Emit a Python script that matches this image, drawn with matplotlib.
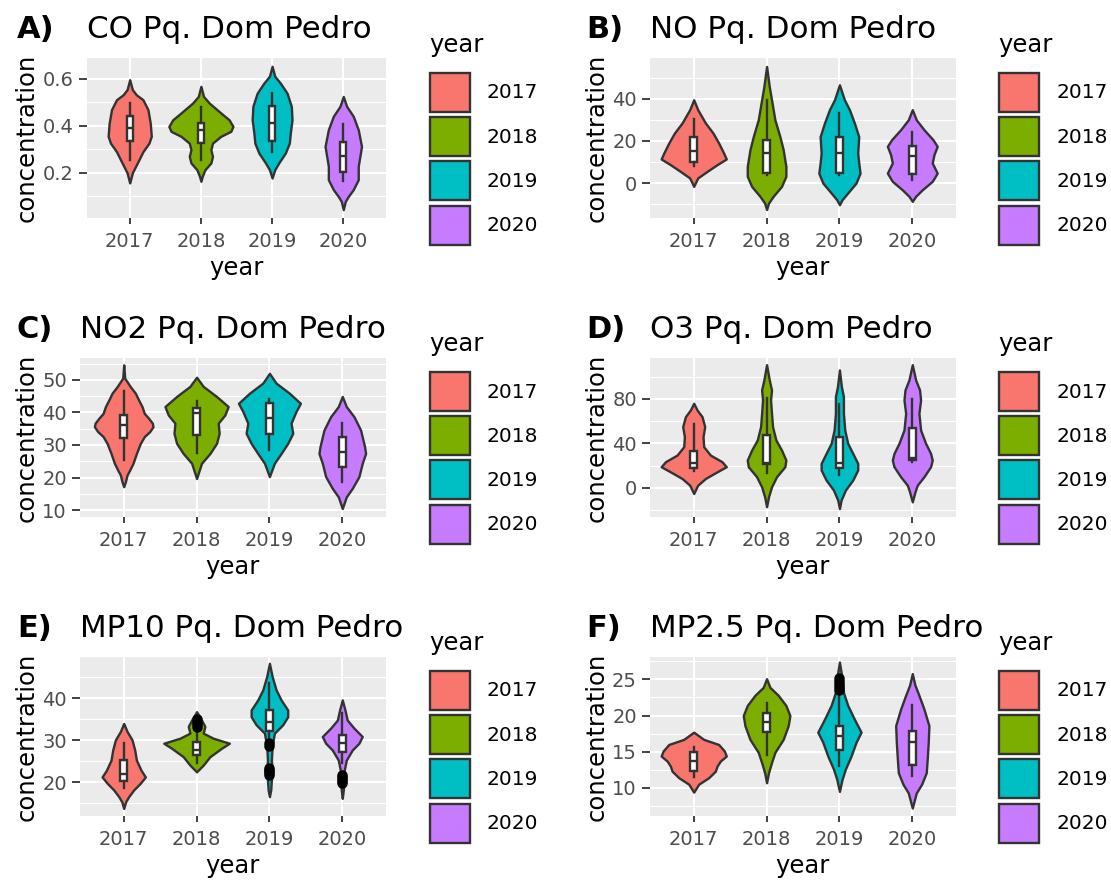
import numpy as np
import matplotlib
matplotlib.use("Agg")
import matplotlib.pyplot as plt
from matplotlib.patches import Rectangle

# ---------------------------------------------------------------------------
# Data (violin outlines as concentration levels and
# half-widths in category units; boxes as [whisker lo, q1, median, q3, whisker hi])
# ---------------------------------------------------------------------------

years = ["2017", "2018", "2019", "2020"]
fill_colors = ["#F8766D", "#7CAE00", "#00BFC4", "#C77CFF"]

# --- CO ---
co_levels = [
    [0.595, 0.553, 0.531, 0.51, 0.468, 0.41, 0.355, 0.326, 0.29, 0.256, 0.22, 0.2, 0.157],
    [0.567, 0.524, 0.496, 0.454, 0.425, 0.397, 0.376, 0.355, 0.326, 0.298, 0.27, 0.242, 0.213, 0.185, 0.164],
    [0.652, 0.61, 0.58, 0.538, 0.482, 0.425, 0.369, 0.326, 0.284, 0.242, 0.213, 0.178],
    [0.524, 0.482, 0.44, 0.383, 0.312, 0.27, 0.228, 0.171, 0.129, 0.1, 0.079, 0.044],
]
co_widths = [
    [0, 0.037, 0.093, 0.186, 0.256, 0.289, 0.303, 0.27, 0.186, 0.13, 0.07, 0.037, 0],
    [0, 0.037, 0.117, 0.28, 0.396, 0.45, 0.42, 0.28, 0.163, 0.14, 0.163, 0.14, 0.056, 0.019, 0],
    [0, 0.037, 0.117, 0.21, 0.27, 0.28, 0.256, 0.242, 0.186, 0.093, 0.037, 0],
    [0, 0.047, 0.14, 0.21, 0.256, 0.233, 0.21, 0.21, 0.14, 0.07, 0.028, 0],
]
co_box = [
    [0.256, 0.334, 0.39, 0.44, 0.496],
    [0.256, 0.326, 0.383, 0.41, 0.48],
    [0.29, 0.334, 0.41, 0.482, 0.538],
    [0.164, 0.202, 0.27, 0.33, 0.408],
]
co_outliers = [[], [], [], []]

# --- NO ---
no_levels = [
    [39.5, 34.8, 28.5, 23.7, 19, 14.2, 11.4, 8.7, 5.5, 2.4, -1.6],
    [55.3, 45.8, 39.5, 30, 22, 15.8, 7.9, 3.2, -1.6, -6.3, -9.5, -12.6],
    [46.6, 39.5, 34.8, 28.5, 22, 14.2, 9.5, 4.7, 0, -4.7, -7.9, -10.3],
    [34.8, 30, 25.3, 20.6, 17.4, 13.4, 9.5, 4.7, 0.8, -3.2, -6.3, -8.7],
]
no_widths = [
    [0, 0.055, 0.16, 0.265, 0.342, 0.411, 0.447, 0.32, 0.183, 0.055, 0],
    [0, 0.037, 0.068, 0.114, 0.183, 0.228, 0.265, 0.265, 0.205, 0.091, 0.027, 0],
    [0, 0.068, 0.137, 0.205, 0.265, 0.251, 0.265, 0.283, 0.228, 0.114, 0.037, 0],
    [0, 0.055, 0.16, 0.283, 0.342, 0.297, 0.274, 0.342, 0.274, 0.137, 0.046, 0],
]
no_box = [
    [7.9, 9.8, 15, 22, 30.4],
    [4, 4.7, 14.2, 20.5, 39.5],
    [4, 4.7, 14.2, 22, 33.2],
    [1.6, 4.4, 12.6, 17.7, 24],
]
no_outliers = [[], [], [], []]

# --- NO2 ---
no2_levels = [
    [54.6, 50.5, 47.9, 45.9, 43.8, 41.8, 39.7, 38.2, 36.7, 35.6, 34.1, 32.6,
     30.5, 27.4, 24.4, 22.3, 20.8, 18.7, 17.2],
    [50.8, 48, 44.9, 41.8, 39.2, 36.7, 33.6, 30.5, 27.4, 24.4, 21.3, 19.7],
    [52, 49, 45.9, 42.8, 40.3, 36.7, 33.6, 30.5, 27.4, 24.4, 20.3],
    [44.9, 41.8, 38.7, 34.6, 29.5, 27.4, 24.4, 20.3, 16.7, 14.1, 10.5],
]
no2_widths = [
    [0, 0.014, 0.091, 0.16, 0.205, 0.251, 0.283, 0.342, 0.393, 0.402, 0.356, 0.283,
     0.228, 0.174, 0.128, 0.082, 0.046, 0.023, 0],
    [0, 0.091, 0.274, 0.434, 0.388, 0.297, 0.31, 0.274, 0.183, 0.068, 0.023, 0],
    [0, 0.091, 0.274, 0.425, 0.365, 0.297, 0.32, 0.251, 0.16, 0.068, 0],
    [0, 0.055, 0.16, 0.251, 0.306, 0.32, 0.274, 0.228, 0.137, 0.055, 0],
]
no2_box = [
    [25.4, 32, 36.2, 39.2, 46.7],
    [27.4, 33.1, 39.7, 41.3, 43.6],
    [28.5, 33.4, 38.2, 43, 44],
    [18.7, 23.3, 27.9, 32.6, 36.7],
]
no2_outliers = [[], [], [], []]

# --- O3 ---
o3_levels = [
    [76, 70, 64, 55, 46, 37, 29.5, 23.5, 19, 14.4, 8.4, 2.4, -5.1],
    [110.7, 97, 88, 79, 67, 55, 43, 34, 25, 19, 10, 0.9, -8, -17],
    [106, 91, 82, 67, 52, 40, 31, 22, 16, 7, -2, -11, -18.6],
    [110.7, 97, 88, 79, 67, 52, 40, 31, 25, 19, 10, 2.4, -3.6, -12.6],
]
o3_widths = [
    [0, 0.046, 0.114, 0.151, 0.128, 0.137, 0.228, 0.388, 0.447, 0.32, 0.16, 0.055, 0],
    [0, 0.037, 0.068, 0.055, 0.068, 0.082, 0.128, 0.205, 0.265, 0.251, 0.137, 0.068, 0.027, 0],
    [0, 0.027, 0.055, 0.055, 0.073, 0.114, 0.183, 0.251, 0.251, 0.183, 0.082, 0.023, 0],
    [0, 0.046, 0.1, 0.114, 0.091, 0.114, 0.183, 0.251, 0.274, 0.251, 0.16, 0.068, 0.037, 0],
]
o3_box = [
    [15, 17.4, 22, 33.4, 57.4],
    [13, 21.4, 22.6, 47.5, 80.6],
    [11.4, 17.4, 22, 46, 75.5],
    [23.5, 25, 26.5, 53.5, 80],
]
o3_outliers = [[], [], [], []]

# --- MP10 ---
mp10_levels = [
    [34, 32.1, 30.1, 27.7, 25.3, 22.9, 21.3, 19.8, 18.2, 16.6, 15.4, 13.8],
    [36.8, 34.8, 33.3, 31.7, 30.5, 29.3, 28.1, 26.1, 24.1, 22.5],
    [48.3, 45.2, 42, 39.6, 37.2, 35.6, 33.7, 31.7, 28.5, 25.3, 22.9, 20.6, 18.2, 16.6],
    [39.6, 37.2, 34.8, 32.9, 30.9, 29.3, 27.7, 25.3, 22.9, 20.6, 18.2, 16.2],
]
mp10_widths = [
    [0, 0.046, 0.114, 0.151, 0.174, 0.237, 0.297, 0.228, 0.137, 0.068, 0.027, 0],
    [0, 0.068, 0.114, 0.091, 0.228, 0.45, 0.342, 0.183, 0.091, 0],
    [0, 0.037, 0.091, 0.16, 0.251, 0.251, 0.183, 0.068, 0.037, 0.027, 0.037, 0.027, 0.018, 0],
    [0, 0.037, 0.068, 0.16, 0.274, 0.228, 0.137, 0.055, 0.027, 0.027, 0.014, 0],
]
mp10_box = [
    [18.6, 20.4, 22, 25.3, 29.3],
    [24.5, 26.5, 27.7, 29.7, 32.1],
    [30.5, 32.3, 34.4, 37.1, 43.6],
    [24.5, 27.3, 29.3, 31.3, 36.4],
]
mp10_outliers = [
    [],
    [33.2, 33.8, 34.4, 35.0],
    [28.6, 29.3, 21.8, 22.2, 22.6, 23.0, 23.4],
    [19.8, 20.3, 20.8, 21.3, 21.8],
]

# --- MP2.5 ---
mp25_levels = [
    [17.7, 16.7, 16, 15.1, 14.4, 13.7, 13, 12.3, 11.4, 10.5, 9.4],
    [25.1, 23.9, 22.8, 21.4, 20, 18.6, 16.7, 14.9, 13.5, 12.1, 10.7],
    [27.4, 25.1, 23.2, 21.4, 19.5, 17.7, 16.3, 14.4, 12.6, 11.2, 9.5],
    [25.8, 24.2, 22.8, 20.9, 18.6, 16.3, 14, 12.1, 10.5, 9.3, 7.2],
]
mp25_widths = [
    [0, 0.137, 0.342, 0.42, 0.447, 0.365, 0.32, 0.297, 0.205, 0.068, 0],
    [0, 0.046, 0.16, 0.265, 0.32, 0.297, 0.228, 0.114, 0.068, 0.027, 0],
    [0, 0.037, 0.055, 0.114, 0.205, 0.297, 0.228, 0.16, 0.082, 0.037, 0],
    [0, 0.037, 0.091, 0.16, 0.228, 0.219, 0.205, 0.192, 0.128, 0.055, 0],
]
mp25_box = [
    [11.5, 12.3, 13.7, 14.9, 15.6],
    [14.6, 17.7, 19.1, 20.4, 21.8],
    [13, 15.3, 17.2, 18.5, 22.8],
    [11.6, 13.2, 16.3, 17.9, 21.4],
]
mp25_outliers = [[], [], [23.6, 24.0, 24.4, 24.8, 25.2], []]

# ---------------------------------------------------------------------------
# Styling (ggplot2 grey theme look-alike)
# ---------------------------------------------------------------------------

W, H = 1111, 883
OUTLINE = "#333333"
PANEL_BG = "#EBEBEB"
LW = 1.7

fig = plt.figure(figsize=(W / 100, H / 100), dpi=100)


def px_axes(left, top, right, bottom):
    """Axes placed by pixel edges (origin top-left)."""
    return fig.add_axes([left / W, 1 - bottom / H, (right - left) / W, (bottom - top) / H])


def draw_panel(ax, levels, widths, box, outliers, yticks, yminor, ylim, title, ylab_x):
    for i, (lv, hw) in enumerate(zip(levels, widths)):
        pos = i + 1
        hw = np.asarray(hw)
        ax.fill_betweenx(lv, pos - hw, pos + hw, facecolor=fill_colors[i],
                         edgecolor=OUTLINE, linewidth=LW, joinstyle="round", zorder=2)

    stats = [dict(whislo=b[0], q1=b[1], med=b[2], q3=b[3], whishi=b[4], fliers=f)
             for b, f in zip(box, outliers)]
    ax.bxp(stats, positions=[1, 2, 3, 4], widths=0.09, patch_artist=True,
           showcaps=False, manage_ticks=False, zorder=3,
           boxprops=dict(facecolor="white", edgecolor=OUTLINE, linewidth=LW),
           medianprops=dict(color=OUTLINE, linewidth=LW),
           whiskerprops=dict(color=OUTLINE, linewidth=LW),
           flierprops=dict(marker="o", markerfacecolor="black",
                           markeredgecolor="black", markersize=6.5))

    ax.set_facecolor(PANEL_BG)
    for s in ax.spines.values():
        s.set_visible(False)
    ax.set_xlim(0.4, 4.6)
    ax.set_ylim(*ylim)
    ax.set_xticks([1, 2, 3, 4], labels=years)
    ax.set_yticks(yticks)
    ax.set_yticks(yminor, minor=True)
    ax.set_axisbelow(True)
    ax.grid(which="major", color="white", linewidth=1.5)
    ax.grid(which="minor", axis="y", color="white", linewidth=0.75)

    ax.tick_params(which="major", color=OUTLINE, width=1.3,
                   labelcolor="#4D4D4D", labelsize=14)
    ax.tick_params(axis="x", which="major", length=4, pad=6)
    ax.tick_params(axis="y", which="major", length=5.5, pad=4)
    ax.tick_params(which="minor", length=0)

    ax.set_title(title, loc="left", fontsize=22.3, pad=14.4)
    ax.set_xlabel("year", fontsize=17.5)
    ax.xaxis.set_label_coords(0.5, -0.238)
    ax.set_ylabel("concentration", fontsize=17.5)
    ax.yaxis.set_label_coords(ylab_x, 0.5)


ax_a = px_axes(87, 58, 386, 218)
draw_panel(ax_a, co_levels, co_widths, co_box, co_outliers,
           [0.2, 0.4, 0.6], [0.1, 0.3, 0.5], (0.0085, 0.687),
           "CO Pq. Dom Pedro", -0.162)

ax_b = px_axes(650, 58, 956, 218)
draw_panel(ax_b, no_levels, no_widths, no_box, no_outliers,
           [0, 20, 40], [-10, 10, 30, 50], (-16.6, 59.3),
           "NO Pq. Dom Pedro", -0.134)

ax_c = px_axes(80, 358, 386, 517)
draw_panel(ax_c, no2_levels, no2_widths, no2_box, no2_outliers,
           [10, 20, 30, 40, 50], [15, 25, 35, 45, 55], (7.9, 56.7),
           "NO2 Pq. Dom Pedro", -0.135)

ax_d = px_axes(650, 358, 956, 517)
draw_panel(ax_d, o3_levels, o3_widths, o3_box, o3_outliers,
           [0, 40, 80], [-20, 20, 60, 100], (-26.2, 116.7),
           "O3 Pq. Dom Pedro", -0.134)

ax_e = px_axes(80, 657, 386, 816)
draw_panel(ax_e, mp10_levels, mp10_widths, mp10_box, mp10_outliers,
           [20, 30, 40], [15, 25, 35, 45], (12.0, 49.8),
           "MP10 Pq. Dom Pedro", -0.135)

ax_f = px_axes(650, 657, 956, 816)
draw_panel(ax_f, mp25_levels, mp25_widths, mp25_box, mp25_outliers,
           [10, 15, 20, 25], [7.5, 12.5, 17.5, 22.5, 27.5], (6.1, 28.1),
           "MP2.5 Pq. Dom Pedro", -0.134)

# ---------------------------------------------------------------------------
# Tags and legends on a pixel canvas overlay
# ---------------------------------------------------------------------------

canvas = fig.add_axes([0, 0, 1, 1])
canvas.set_xlim(0, W)
canvas.set_ylim(H, 0)
canvas.axis("off")


def draw_legend(x0, y0):
    canvas.text(x0 - 1, y0 - 20, "year", fontsize=17.5, va="baseline", ha="left")
    for i, (yr, col) in enumerate(zip(years, fill_colors)):
        top = y0 + i * 44.2
        canvas.add_patch(Rectangle((x0, top + 1), 40, 39, facecolor=col,
                                   edgecolor=OUTLINE, linewidth=LW))
        canvas.text(x0 + 57, top + 21, yr, fontsize=14.5, va="center", ha="left")


tags = ["A)", "B)", "C)", "D)", "E)", "F)"]
tag_x = [17, 586]
tag_y = [38, 338, 637]
legend_x = [430, 999]
legend_y = [72, 371, 670]

for k, tag in enumerate(tags):
    row, col = divmod(k, 2)
    canvas.text(tag_x[col], tag_y[row], tag, fontsize=22, fontweight="bold",
                va="baseline", ha="left")
    draw_legend(legend_x[col], legend_y[row])

fig.savefig("out.png", dpi=100)
